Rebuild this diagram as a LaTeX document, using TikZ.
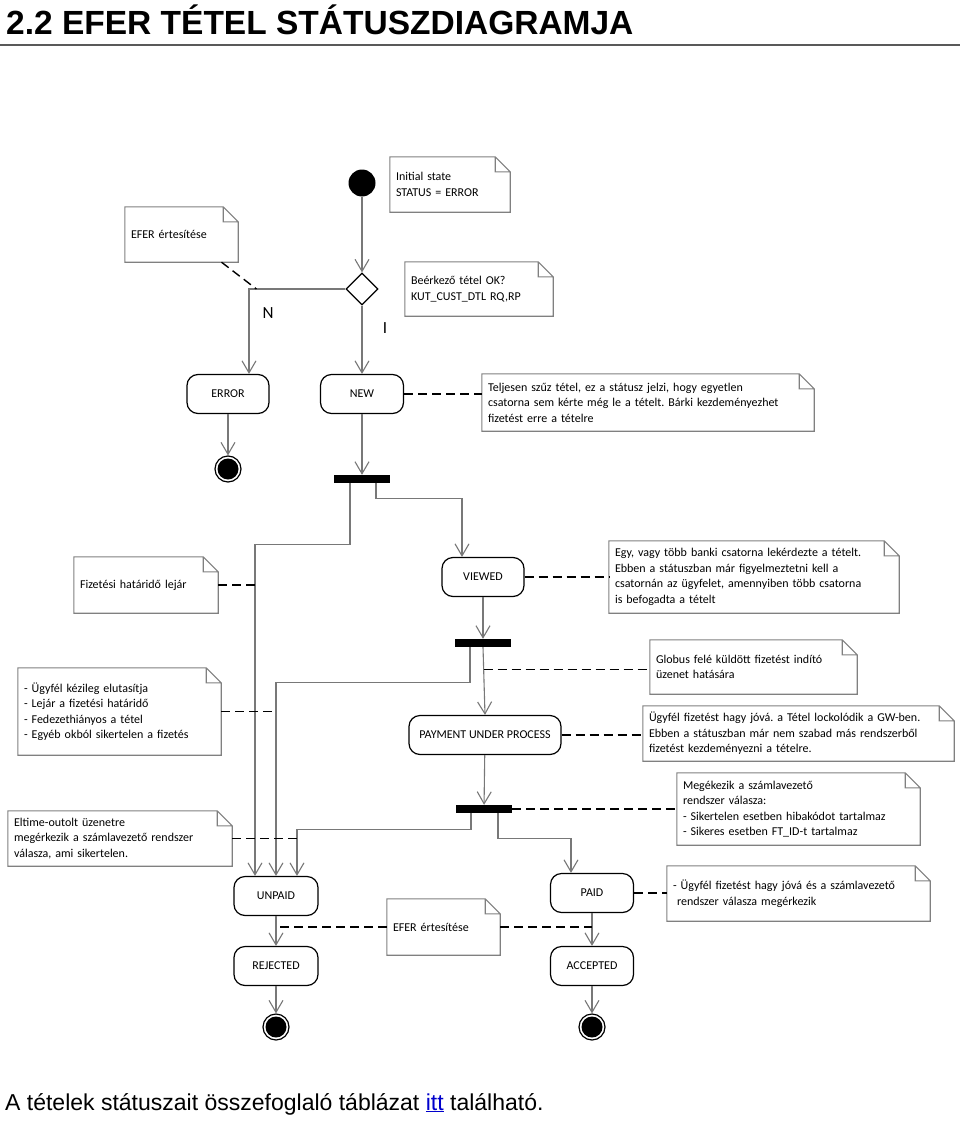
\documentclass[tikz,border=0pt]{standalone}
\usepackage{fontspec}
\setmainfont{Carlito}
\newfontfamily\arialfont{Liberation Sans}
\usetikzlibrary{arrows.meta,calc,shapes.geometric}
\definecolor{connc}{RGB}{120,120,120}
\definecolor{notec}{RGB}{128,128,128}
\definecolor{linkc}{RGB}{0,0,204}
\newcommand\notefold[1]{\draw[notedraw] (#1.north west) -- ([xshift=-15pt]#1.north east) -- ([yshift=-15pt]#1.north east) -- (#1.south east) -- (#1.south west) -- cycle ([xshift=-15pt]#1.north east) -- ([xshift=-15pt,yshift=-15pt]#1.north east) -- ([yshift=-15pt]#1.north east);}
\frenchspacing
\begin{document}
\begin{tikzpicture}[x=1pt,y=-1pt,
  state/.style={draw=black, line width=1.2pt, rounded corners=11pt, minimum height=39pt, inner sep=0pt, font=\fontsize{12}{14}\selectfont},
  note/.style={inner xsep=6pt, inner ysep=0pt, align=left, font=\fontsize{12}{15.5}\selectfont},
  conn/.style={draw=connc, line width=1.1pt, -{Straight Barb[length=12pt,width=14pt]}},
  dashline/.style={draw=black, line width=1.4pt, dash pattern=on 9pt off 5pt},
  bar/.style={fill=black, minimum width=56pt, minimum height=8pt, inner sep=0pt},
  initial/.style={circle, fill=black, minimum size=27pt, inner sep=0pt},
  final/.style={circle, draw=black, line width=1.2pt, minimum size=26pt, inner sep=0pt, path picture={\fill[black] (path picture bounding box.center) circle (10.5pt);}},
  decision/.style={diamond, draw=black, line width=1.2pt, fill=white, minimum width=32pt, minimum height=32pt, inner sep=0pt},
  lbl/.style={font=\fontsize{17}{20}\selectfont, inner sep=0pt},
  notedraw/.style={draw=notec, line width=1.1pt}
]
\fill[white] (0,0) rectangle (960,1121);
\useasboundingbox (0,0) rectangle (960,1121);

% title and footer
\node[anchor=base west, inner sep=0pt, font=\arialfont\bfseries\fontsize{33.5}{40}\selectfont] (title) at (6,35) {2.2 EFER TÉTEL STÁTUSZDIAGRAMJA};
\draw[black!65, line width=2pt] (0,45) -- (960,45);
\node[anchor=base west, inner sep=0pt, font=\arialfont\fontsize{23}{27}\selectfont] (footer) at (5,1110) {A tételek státuszait összefoglaló táblázat \textcolor{linkc}{\underline{itt}} található.};

% states
\node[initial] (init) at (362,183) {};
\node[decision] (dec) at (362,289) {};
\node[state, minimum width=82pt] (error) at (228,394) {ERROR};
\node[state, minimum width=83pt] (new) at (362,394) {NEW};
\node[final] (f1) at (228,469) {};
\node[bar] (bar1) at (362,479) {};
\node[state, minimum width=82pt] (viewed) at (483,577) {VIEWED};
\node[bar] (bar2) at (483,643) {};
\node[state, minimum width=152pt] (pup) at (485,735) {PAYMENT UNDER PROCESS};
\node[bar] (bar3) at (484,809) {};
\node[state, minimum width=84pt] (unpaid) at (276,896) {UNPAID};
\node[state, minimum width=83pt] (paid) at (592,893) {PAID};
\node[state, minimum width=84pt] (rejected) at (276,966) {REJECTED};
\node[state, minimum width=83pt] (accepted) at (592,966) {ACCEPTED};
\node[final] (f2) at (276,1027) {};
\node[final] (f3) at (592,1027) {};

\node[lbl] (lN) at (268,313) {N};
\node[lbl] (lI) at (385,328) {I};

% notes
\node[note, minimum width=120pt, minimum height=55pt, text width=108pt] (ninit) at (450,184.5) {Initial state\\STATUS = ERROR};
\node[note, minimum width=113pt, minimum height=55pt, text width=101pt] (nefer1) at (181.5,234.5) {EFER értesítése};
\node[note, minimum width=148pt, minimum height=54pt, text width=136pt] (nok) at (479,289) {Beérkező tétel OK?\\KUT\_CUST\_DTL RQ,RP};
\node[note, minimum width=332pt, minimum height=57pt, text width=320pt] (nnew) at (648,402.5) {Teljesen szűz tétel, ez a státusz jelzi, hogy egyetlen\\csatorna sem kérte még le a tételt. Bárki kezdeményezhet\\fizetést erre a tételre};
\node[note, minimum width=144pt, minimum height=56pt, text width=132pt] (nlejar) at (146,585) {Fizetési határidő lejár};
\node[note, minimum width=290pt, minimum height=72pt, text width=278pt] (nviewed) at (754,577) {Egy, vagy több banki csatorna lekérdezte a tételt.\\Ebben a státuszban már figyelmeztetni kell a\\csatornán az ügyfelet, amennyiben több csatorna\\is befogadta a tételt};
\node[note, minimum width=207pt, minimum height=54pt, text width=195pt] (nglobus) at (753.5,667) {Globus felé küldött fizetést indító\\üzenet hatására};
\node[note, minimum width=203pt, minimum height=87pt, text width=191pt] (nreject) at (119.5,711.5) {- Ügyfél kézileg elutasítja\\- Lejár a fizetési határidő\\- Fedezethiányos a tétel\\- Egyéb okból sikertelen a fizetés\\[6pt]};
\node[note, minimum width=311pt, minimum height=55pt, text width=299pt] (npup) at (798.5,733.5) {Ügyfél fizetést hagy jóvá. a Tétel lockolódik a GW-ben.\\Ebben a státuszban már nem szabad más rendszerből\\fizetést kezdeményezni a tételre.};
\node[note, minimum width=243pt, minimum height=72pt, text width=231pt] (nresp) at (798.5,809) {Megékezik a számlavezető\\rendszer válasza:\\- Sikertelen esetben hibakódot tartalmaz\\- Sikeres esetben FT\_ID-t tartalmaz};
\node[note, minimum width=224pt, minimum height=55pt, text width=212pt] (neltime) at (120,838.5) {Eltime-outolt üzenetre\\megérkezik a számlavezető rendszer\\válasza, ami sikertelen.};
\node[note, minimum width=263pt, minimum height=55pt, text width=251pt] (npaid) at (798.5,893.5) {- Ügyfél fizetést hagy jóvá és a számlavezető\\\hspace*{4pt}rendszer válasza megérkezik};
\node[note, minimum width=113pt, minimum height=56pt, text width=101pt] (nefer2) at (443.5,927) {EFER értesítése};

\foreach \n in {ninit,nefer1,nok,nnew,nlejar,nviewed,nglobus,nreject,npup,nresp,neltime,npaid,nefer2} {\notefold{\n}}

% connectors
\draw[conn] (init) -- (dec);
\draw[conn] (dec.west) -| ([xshift=21pt]error.north);
\draw[conn] (dec) -- (new);
\draw[conn] (error) -- (f1);
\draw[conn] (new) -- (bar1);
\draw[conn] ([xshift=-12pt]bar1.south) -- ++(0,61) -| ([xshift=-21pt]unpaid.north);
\draw[conn] ([xshift=14pt]bar1.south) -- ++(0,15) -| ([xshift=-21pt]viewed.north);
\draw[conn] (viewed) -- (bar2);
\draw[conn] ([xshift=-13pt]bar2.south) -- ++(0,35) -| (unpaid.north);
\draw[conn] (bar2.south) -- (pup.north);
\draw[conn] (pup) -- (bar3);
\draw[conn] ([xshift=-13pt]bar3.south) -- ++(0,16) -| ([xshift=21pt]unpaid.north);
\draw[conn] ([xshift=14pt]bar3.south) -- ++(0,25) -| ([xshift=-21pt]paid.north);
\draw[conn] (unpaid) -- (rejected);
\draw[conn] (rejected) -- (f2);
\draw[conn] (paid) -- (accepted);
\draw[conn] (accepted) -- (f3);

% note links
\coordinate (ej) at ($(dec.west)+(-89,0)$);
\draw[dashline] ([xshift=40pt]nefer1.south) -- (ej);
\draw[dashline] (new.east) -- (new.east -| nnew.west);
\draw[dashline] (nlejar.east) -- (nlejar.east -| 255,0);
\draw[dashline] (viewed.east) -- (viewed.east -| nviewed.west);
\coordinate (gj) at ($(bar2.south)!0.33!(pup.north)$);
\draw[dashline] (gj) -- (gj -| nglobus.west);
\draw[dashline] (nreject.east) -- (nreject.east -| unpaid.north);
\draw[dashline] (pup.east) -- (pup.east -| npup.west);
\draw[dashline] (bar3.east) -- (bar3.east -| nresp.west);
\draw[dashline] (neltime.east) -- (neltime.east -| 297,0);
\draw[dashline] (nefer2.west) -- (nefer2.west -| unpaid.south);
\draw[dashline] (nefer2.east) -- (nefer2.east -| paid.south);
\draw[dashline] (paid.east) -- (paid.east -| npaid.west);
\end{tikzpicture}
\end{document}
